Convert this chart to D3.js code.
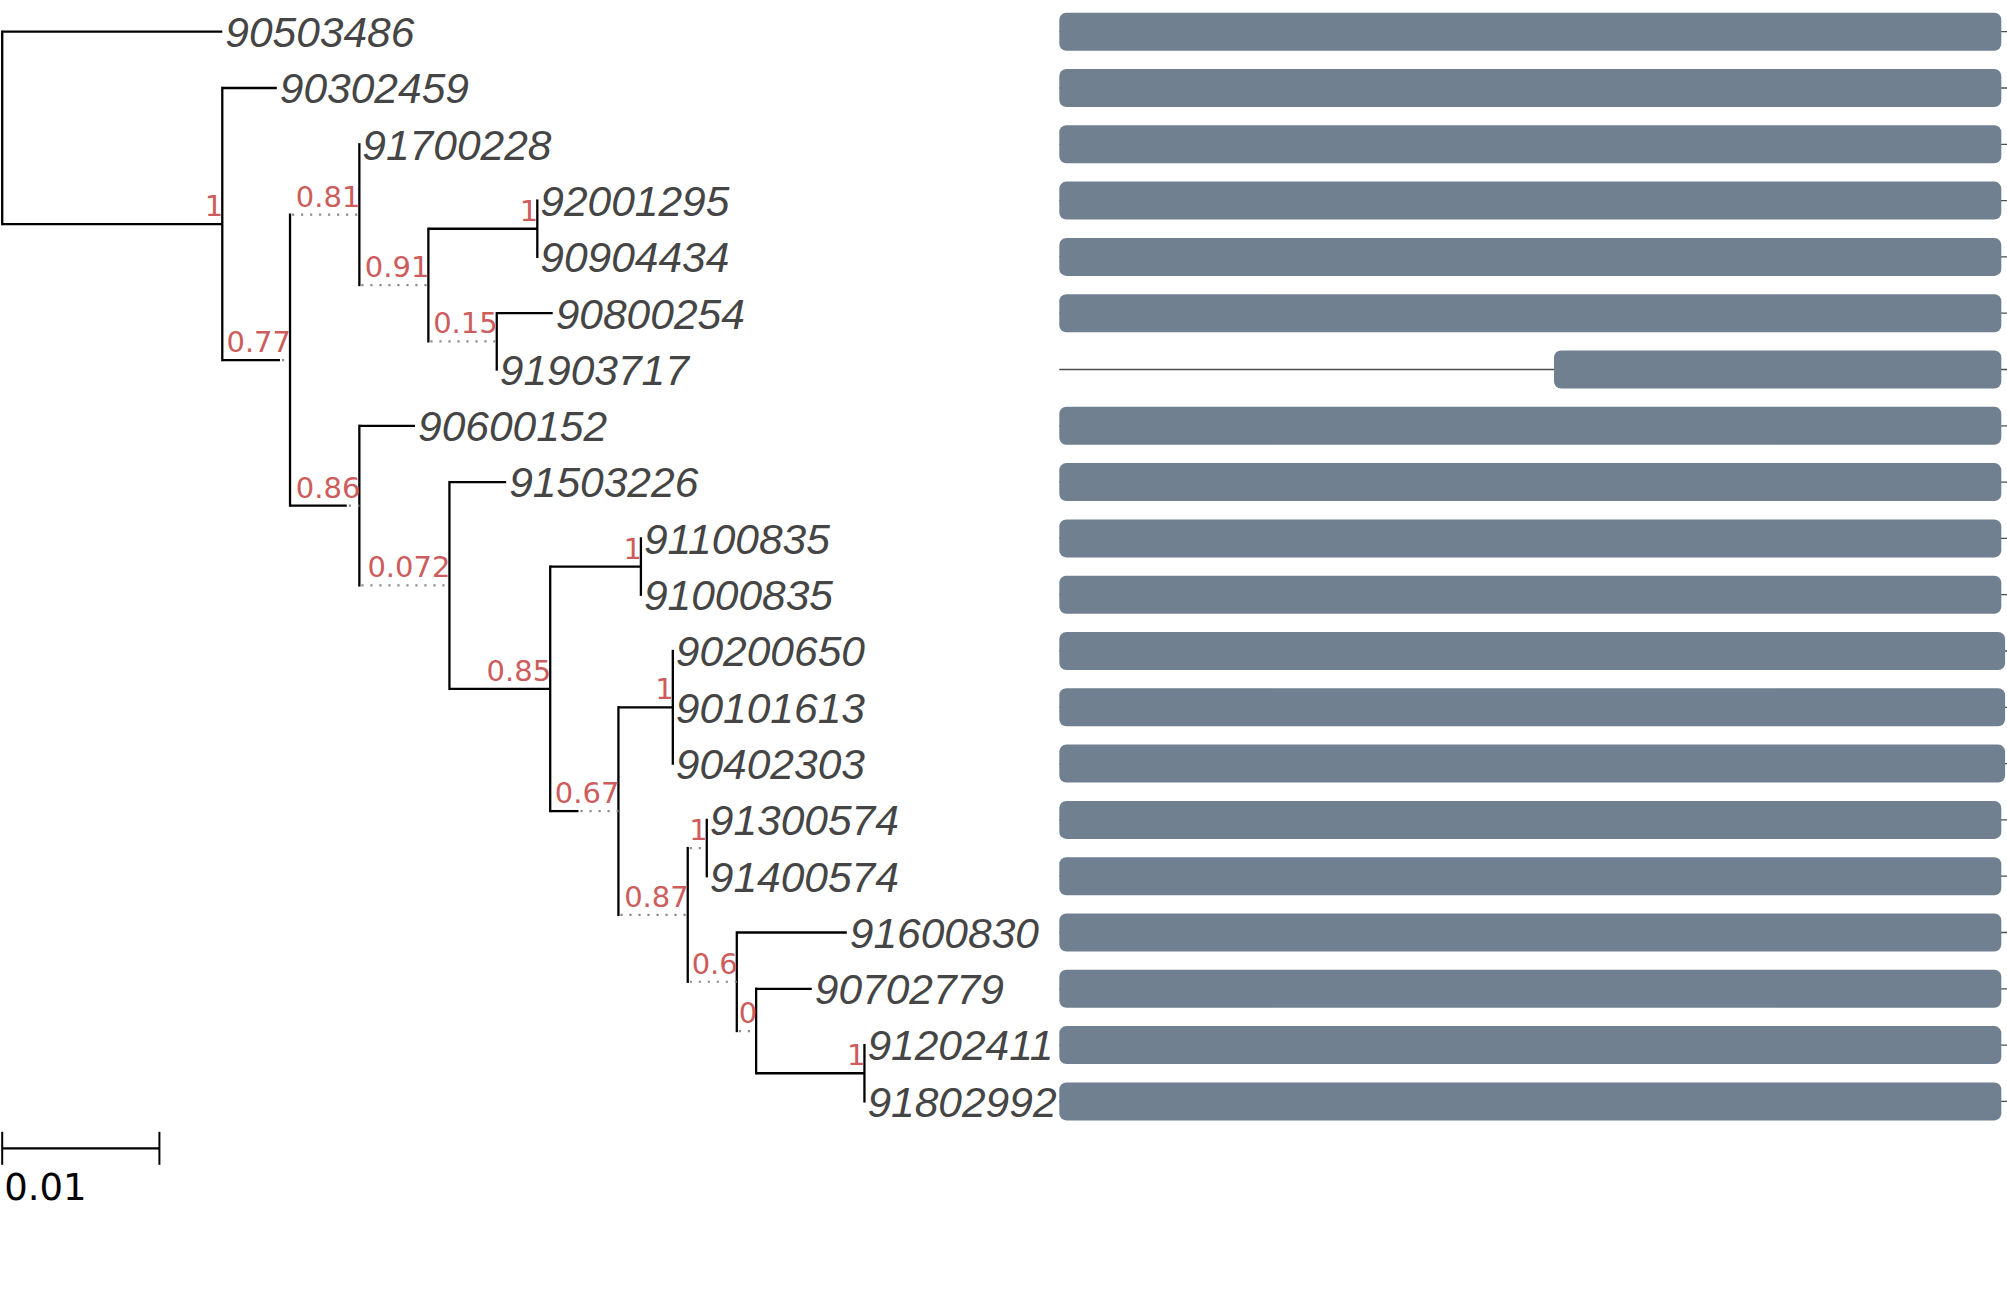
<!DOCTYPE html>
<html lang="en">
<head>
  <meta charset="UTF-8" />
  <title>tree with alignment bars</title>
  <script src="https://d3js.org/d3.v7.min.js"></script>
  <style>
    html, body { margin: 0; padding: 0; background: #fff; }
    svg { display: block; }
  </style>
</head>
<body>
<div id="chart"></div>
<script>

// tip order, top to bottom
const tipLabels = [
  "90503486", "90302459", "91700228", "92001295", "90904434",
  "90800254", "91903717", "90600152", "91503226", "91100835",
  "91000835", "90200650", "90101613", "90402303", "91300574",
  "91400574", "91600830", "90702779", "91202411", "91802992"
];

// tree: node, parent, branch length, dotted part of the branch, support
const nodeIds   = ["root", "90503486", "n1", "90302459", "n2", "n3", "91700228", "n4", "n5", "92001295", "90904434",
                   "n6", "90800254", "91903717", "n7", "90600152", "n8", "91503226", "n9", "n10", "91100835",
                   "91000835", "n11", "n12", "90200650", "90101613", "90402303", "n13", "n14", "91300574",
                   "91400574", "n15", "91600830", "n16", "90702779", "n17", "91202411", "91802992"];
const parentIds = ["", "root", "root", "n1", "n1", "n2", "n3", "n3", "n4", "n5", "n5",
                   "n4", "n6", "n6", "n2", "n7", "n7", "n8", "n8", "n9", "n10",
                   "n10", "n9", "n11", "n12", "n12", "n12", "n11", "n13", "n14",
                   "n14", "n13", "n15", "n15", "n16", "n16", "n17", "n17"];
const branchLen = [0, 0.0140, 0.0140, 0.00347, 0.00431, 0.00441, 0, 0.00439, 0.00693, 0, 0,
                   0.00435, 0.00356, 0, 0.00441, 0.00354, 0.00573, 0.00361, 0.00641, 0.00577, 0,
                   0, 0.00434, 0.00346, 0, 0, 0, 0.00441, 0.00121, 0,
                   0, 0.00312, 0.00700, 0.00123, 0.00354, 0.00689, 0, 0];
const dottedLen = [0, 0, 0, 0, 0.00064, 0.00441, 0, 0.00439, 0, 0, 0,
                   0.00435, 0, 0, 0.0008, 0, 0.00573, 0, 0, 0, 0,
                   0, 0.00254, 0, 0, 0, 0, 0.00441, 0.00121, 0,
                   0, 0.00312, 0, 0.00123, 0, 0, 0, 0];
const support   = [null, null, "1", null, "0.77", "0.81", null, "0.91", "1", null, null,
                   "0.15", null, null, "0.86", null, "0.072", null, "0.85", "1", null,
                   null, "0.67", "1", null, null, null, "0.87", "1", null,
                   null, "0.6", null, "0", null, "1", null, null];

// alignment coverage per tip (same order as tipLabels)
const seqLength = 1000;
const alnStart = [0, 0, 0, 0, 0, 0, 522, 0, 0, 0, 0, 0, 0, 0, 0, 0, 0, 0, 0, 0];
const alnEnd   = [994, 994, 994, 994, 994, 994, 994, 994, 994, 994, 994, 998, 998, 998, 994, 994, 994, 994, 994, 994];

const scaleBarValue = 0.01;

const W = 2007, H = 1289;
const svg = d3.select("#chart").append("svg")
  .attr("width", W)
  .attr("height", H);

const rows = nodeIds.map((id, i) => ({
  id: id, parent: parentIds[i] || null,
  len: branchLen[i], dot: dottedLen[i], support: support[i]
}));
const root = d3.stratify().id(d => d.id).parentId(d => d.parent)(rows);

// depth along branches
root.eachBefore(n => { n.dist = n.parent ? n.parent.dist + n.data.len : 0; });

const x = d3.scaleLinear().domain([0, 0.01]).range([2.2, 159.4]);
const y = d3.scaleLinear().domain([0, tipLabels.length - 1]).range([31.7, 1101.4]);

root.eachAfter(n => {
  if (!n.children) n.yy = y(tipLabels.indexOf(n.id));
  else n.yy = (n.children[0].yy + n.children[n.children.length - 1].yy) / 2;
});

// alignment panel
const ax = d3.scaleLinear().domain([0, seqLength]).range([1059.3, 2007]);
const panel = svg.append("g");
panel.selectAll("line.seq")
  .data(tipLabels)
  .join("line")
  .attr("class", "seq")
  .attr("x1", ax(0)).attr("x2", ax(seqLength))
  .attr("y1", (d, i) => y(i)).attr("y2", (d, i) => y(i))
  .attr("stroke", "#4d4d4d")
  .attr("stroke-width", 1.3);
panel.selectAll("rect.aln")
  .data(tipLabels)
  .join("rect")
  .attr("class", "aln")
  .attr("x", (d, i) => ax(alnStart[i]))
  .attr("width", (d, i) => ax(alnEnd[i]) - ax(alnStart[i]))
  .attr("y", (d, i) => y(i) - 19)
  .attr("height", 38)
  .attr("rx", 7)
  .attr("fill", "#708090");

// tree
const tree = svg.append("g");
const edges = root.descendants().filter(n => n.parent);
const lw = 2.3;

// vertical connectors
tree.selectAll("line.vert")
  .data(root.descendants().filter(n => n.children))
  .join("line")
  .attr("class", "vert")
  .attr("x1", n => x(n.dist)).attr("x2", n => x(n.dist))
  .attr("y1", n => n.children[0].yy)
  .attr("y2", n => n.children[n.children.length - 1].yy)
  .attr("stroke", "#000")
  .attr("stroke-width", lw)
  .attr("stroke-linecap", "square");

// solid part of horizontal branches
tree.selectAll("line.solid")
  .data(edges.filter(n => n.data.len - n.data.dot > 0))
  .join("line")
  .attr("class", "solid")
  .attr("x1", n => x(n.parent.dist))
  .attr("x2", n => x(n.dist - n.data.dot))
  .attr("y1", n => n.yy).attr("y2", n => n.yy)
  .attr("stroke", "#000")
  .attr("stroke-width", lw);

// dotted part
tree.selectAll("line.dotted")
  .data(edges.filter(n => n.data.dot > 0))
  .join("line")
  .attr("class", "dotted")
  .attr("x1", n => x(n.dist - n.data.dot) + 2)
  .attr("x2", n => x(n.dist))
  .attr("y1", n => n.yy).attr("y2", n => n.yy)
  .attr("stroke", "#8c8c8c")
  .attr("stroke-width", 2.2)
  .attr("stroke-dasharray", "2.2,6.8");

// support values
tree.selectAll("text.support")
  .data(root.descendants().filter(n => n.data.support !== null))
  .join("text")
  .attr("class", "support")
  .attr("x", n => x(n.dist) + 1)
  .attr("y", n => n.yy - 8)
  .attr("text-anchor", "end")
  .attr("font-family", "'DejaVu Sans', sans-serif")
  .attr("font-size", 29)
  .attr("fill", "#CD5C5C")
  .text(n => n.data.support);

// tip labels
tree.selectAll("text.tip")
  .data(root.leaves())
  .join("text")
  .attr("class", "tip")
  .attr("x", n => x(n.dist) + 3)
  .attr("y", n => n.yy)
  .attr("dy", "0.36em")
  .attr("font-family", "'Liberation Sans', Arial, sans-serif")
  .attr("font-style", "italic")
  .attr("font-size", 42.5)
  .attr("fill", "#454545")
  .text(n => n.id);

// scale bar
const sb = svg.append("g");
const sbY = 1148.3;
sb.append("line")
  .attr("x1", x(0)).attr("x2", x(scaleBarValue))
  .attr("y1", sbY).attr("y2", sbY)
  .attr("stroke", "#000").attr("stroke-width", lw);
sb.selectAll("line.tick")
  .data([0, scaleBarValue])
  .join("line")
  .attr("class", "tick")
  .attr("x1", d => x(d)).attr("x2", d => x(d))
  .attr("y1", sbY - 16.5).attr("y2", sbY + 16.5)
  .attr("stroke", "#000").attr("stroke-width", 2);
sb.append("text")
  .attr("x", x(0) + 2)
  .attr("y", 1200)
  .attr("font-family", "'DejaVu Sans', sans-serif")
  .attr("font-size", 37)
  .attr("fill", "#000")
  .text(String(scaleBarValue));

</script>
</body>
</html>
